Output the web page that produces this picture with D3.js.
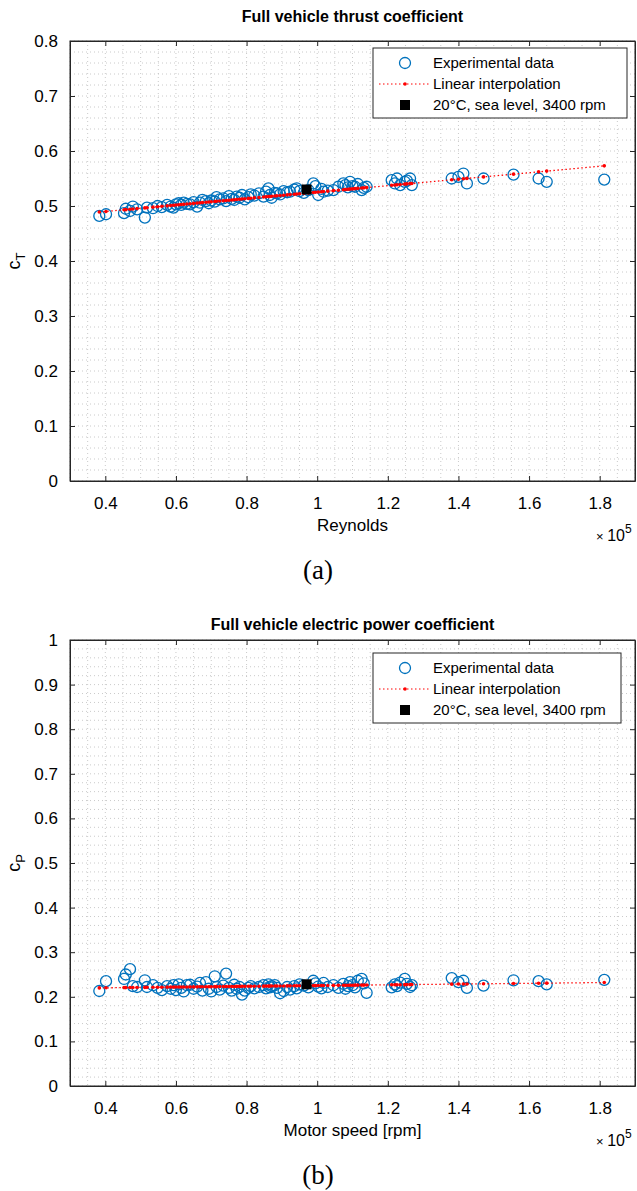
<!DOCTYPE html>
<html>
<head>
<meta charset="utf-8">
<script src="https://cdn.jsdelivr.net/npm/d3@7"></script>
<style>
  body { margin: 0; background: #fff; }
  svg text { font-family: "Liberation Sans", Arial, sans-serif; fill: #000; }
</style>
</head>
<body>
<script>
'use strict';

// Reynolds number (x 1e5), shared by both panels
var reynolds = [
  0.383, 0.402, 0.453, 0.458, 0.470, 0.478, 0.490, 0.512, 0.518, 0.535,
  0.548, 0.560, 0.575, 0.585, 0.593, 0.600, 0.608, 0.615, 0.622, 0.631,
  0.640, 0.650, 0.660, 0.668, 0.675, 0.685, 0.693, 0.700, 0.710, 0.715,
  0.724, 0.734, 0.742, 0.750, 0.758, 0.765, 0.772, 0.780, 0.787, 0.795,
  0.805, 0.812, 0.822, 0.835, 0.848, 0.855, 0.862, 0.866, 0.871, 0.880,
  0.886, 0.895, 0.905, 0.915, 0.923, 0.935, 0.942, 0.950, 0.962, 0.975,
  0.989, 0.995, 1.003, 1.012, 1.018, 1.030, 1.046, 1.060, 1.074, 1.080,
  1.087, 1.093, 1.100, 1.107, 1.115, 1.126, 1.132, 1.140, 1.211, 1.220,
  1.226, 1.235, 1.248, 1.254, 1.263, 1.268, 1.381, 1.400, 1.414, 1.424,
  1.471, 1.556, 1.627, 1.650, 1.813
];

var thrustCoef = [
  0.482, 0.485, 0.487, 0.495, 0.491, 0.499, 0.494, 0.479, 0.497, 0.496,
  0.500, 0.498, 0.502, 0.499, 0.497, 0.503, 0.505, 0.502, 0.506, 0.504,
  0.503, 0.507, 0.499, 0.506, 0.511, 0.509, 0.505, 0.510, 0.508, 0.516,
  0.512, 0.514, 0.509, 0.518, 0.513, 0.511, 0.517, 0.515, 0.520, 0.512,
  0.516, 0.521, 0.519, 0.523, 0.517, 0.526, 0.532, 0.520, 0.515, 0.524,
  0.523, 0.521, 0.527, 0.525, 0.526, 0.530, 0.532, 0.527, 0.524, 0.529,
  0.541, 0.536, 0.520, 0.531, 0.526, 0.528, 0.529, 0.535, 0.541, 0.538,
  0.534, 0.544, 0.536, 0.535, 0.540, 0.529, 0.533, 0.535, 0.547, 0.541,
  0.550, 0.538, 0.544, 0.546, 0.550, 0.538, 0.550, 0.553, 0.559, 0.541,
  0.550, 0.557, 0.550, 0.544, 0.548
];

var powerCoef = [
  0.213, 0.235, 0.240, 0.250, 0.262, 0.224, 0.222, 0.237, 0.222, 0.226,
  0.220, 0.215, 0.224, 0.218, 0.226, 0.215, 0.228, 0.220, 0.212, 0.226,
  0.227, 0.218, 0.223, 0.231, 0.214, 0.233, 0.218, 0.212, 0.246, 0.222,
  0.216, 0.225, 0.252, 0.220, 0.214, 0.227, 0.218, 0.222, 0.205, 0.214,
  0.220, 0.224, 0.219, 0.222, 0.226, 0.219, 0.228, 0.221, 0.224, 0.226,
  0.220, 0.208, 0.213, 0.222, 0.216, 0.224, 0.219, 0.228, 0.225, 0.221,
  0.236, 0.230, 0.223, 0.219, 0.231, 0.222, 0.226, 0.220, 0.229, 0.218,
  0.224, 0.233, 0.226, 0.221, 0.236, 0.240, 0.230, 0.209, 0.221, 0.228,
  0.224, 0.232, 0.240, 0.229, 0.222, 0.226, 0.242, 0.233, 0.236, 0.220,
  0.225, 0.237, 0.235, 0.228, 0.238
];

// linear interpolation end points (Reynolds range -> coefficient)
var fitRange = [0.383, 1.813];
var thrustFit = [0.489, 0.573];
var powerFit = [0.220, 0.232];

// reference point: 20°C, sea level, 3400 rpm
var refRe = 0.97;
var refThrust = 0.530;
var refPower = 0.228;

var xTicks = [0.4, 0.6, 0.8, 1, 1.2, 1.4, 1.6, 1.8];
var legendLabels = ["Experimental data", "Linear interpolation", "20°C, sea level, 3400 rpm"];

var width = 637, height = 1191;
var blue = "#0072BD";

var svg = d3.select("body").append("svg")
    .attr("width", width)
    .attr("height", height);

function drawPanel(opt) {
    var left = 70, right = 635;
    var x = d3.scaleLinear().domain([0.3, 1.9]).range([left, right]);
    var y = d3.scaleLinear().domain([0, opt.yMax]).range([opt.bottom, opt.top]);
    var fit = d3.scaleLinear().domain(fitRange).range(opt.fit);

    var g = svg.append("g");

    // minor grid (dotted)
    var minorX = d3.range(0.3, 1.9001, 0.05);
    var minorY = d3.range(0, opt.yMax + 0.0001, 0.02);
    g.append("g").selectAll("line").data(minorX).enter().append("line")
        .attr("x1", d => x(d)).attr("x2", d => x(d))
        .attr("y1", opt.top).attr("y2", opt.bottom)
        .attr("stroke", "#bdbdbd").attr("stroke-width", 0.8)
        .attr("stroke-dasharray", "1,3");
    g.append("g").selectAll("line").data(minorY).enter().append("line")
        .attr("y1", d => y(d)).attr("y2", d => y(d))
        .attr("x1", left).attr("x2", right)
        .attr("stroke", "#bdbdbd").attr("stroke-width", 0.8)
        .attr("stroke-dasharray", "1,3");

    // axes with inward ticks on all sides
    var yTicks = d3.range(0, opt.yMax + 0.0001, 0.1);
    var fmtY = d => d3.format(".1f")(d).replace(/^0\.0$/, "0").replace(/^1\.0$/, "1");
    var fmtX = d => (d === 1 ? "1" : d3.format(".1f")(d));

    var ax = g.append("g").attr("transform", "translate(0," + opt.bottom + ")")
        .call(d3.axisBottom(x).tickValues(xTicks).tickSizeInner(-5).tickSizeOuter(0).tickPadding(16).tickFormat(fmtX));
    var axT = g.append("g").attr("transform", "translate(0," + opt.top + ")")
        .call(d3.axisTop(x).tickValues(xTicks).tickSizeInner(-5).tickSizeOuter(0).tickFormat(""));
    var ay = g.append("g").attr("transform", "translate(" + left + ",0)")
        .call(d3.axisLeft(y).tickValues(yTicks).tickSizeInner(-5).tickSizeOuter(0).tickPadding(12).tickFormat(fmtY));
    var ayR = g.append("g").attr("transform", "translate(" + right + ",0)")
        .call(d3.axisRight(y).tickValues(yTicks).tickSizeInner(-5).tickSizeOuter(0).tickFormat(""));
    [ax, axT, ay, ayR].forEach(function(a) {
        a.select(".domain").attr("stroke", "#262626");
        a.selectAll(".tick line").attr("stroke", "#262626");
        a.selectAll("text").attr("font-size", 17).attr("font-family", "Liberation Sans, Arial, sans-serif").attr("fill", "#000");
    });
    g.append("rect")
        .attr("x", left).attr("y", opt.top)
        .attr("width", right - left).attr("height", opt.bottom - opt.top)
        .attr("fill", "none").attr("stroke", "#262626").attr("stroke-width", 1);

    // experimental data
    g.append("g").selectAll("circle").data(reynolds).enter().append("circle")
        .attr("cx", d => x(d))
        .attr("cy", (d, i) => y(opt.values[i]))
        .attr("r", 5.5)
        .attr("fill", "none")
        .attr("stroke", blue)
        .attr("stroke-width", 1.3);

    // interpolation line
    g.append("line")
        .attr("x1", x(fitRange[0])).attr("x2", x(fitRange[1]))
        .attr("y1", y(opt.fit[0])).attr("y2", y(opt.fit[1]))
        .attr("stroke", "red").attr("stroke-width", 1.3)
        .attr("stroke-dasharray", "1.5,2.5");
    g.append("g").selectAll("circle").data(reynolds).enter().append("circle")
        .attr("cx", d => x(d))
        .attr("cy", d => y(fit(d)))
        .attr("r", 1.8)
        .attr("fill", "red");

    // reference point
    g.append("rect")
        .attr("x", x(refRe) - 5).attr("y", y(opt.ref) - 5)
        .attr("width", 10).attr("height", 10)
        .attr("fill", "#000");

    // title and labels
    g.append("text")
        .attr("x", (left + right) / 2).attr("y", opt.titleY)
        .attr("text-anchor", "middle")
        .attr("font-size", 16).attr("font-weight", "bold")
        .text(opt.title);
    g.append("text")
        .attr("x", (left + right) / 2).attr("y", opt.bottom + 50)
        .attr("text-anchor", "middle")
        .attr("font-size", 17)
        .text(opt.xLabel);

    var mult = g.append("text")
        .attr("x", 596).attr("y", opt.bottom + 60)
        .attr("font-size", 16);
    mult.append("tspan").attr("font-size", 13).text("× ");
    mult.append("tspan").text("10");
    mult.append("tspan").attr("dy", -8).attr("font-size", 12).text("5");

    var yl = g.append("text")
        .attr("transform", "translate(20," + (opt.top + opt.bottom) / 2 + ") rotate(-90)")
        .attr("text-anchor", "middle")
        .attr("font-size", 18);
    yl.append("tspan").text("c");
    yl.append("tspan").attr("dy", 5).attr("font-size", 13).text(opt.sub);

    g.append("text")
        .attr("x", 318).attr("y", opt.bottom + 98)
        .attr("text-anchor", "middle")
        .attr("font-size", 27)
        .style("font-family", "'Liberation Serif', serif")
        .text(opt.caption);

    // legend
    var lg = g.append("g").attr("transform", "translate(" + opt.legend[0] + "," + opt.legend[1] + ")");
    lg.append("rect")
        .attr("width", opt.legend[2]).attr("height", 70)
        .attr("fill", "#fff").attr("stroke", "#262626").attr("stroke-width", 1);
    var rows = lg.selectAll("g.row").data(legendLabels).enter().append("g")
        .attr("transform", (d, i) => "translate(0," + (15 + i * 21) + ")");
    rows.append("text")
        .attr("x", 60).attr("y", 5)
        .attr("font-size", 15)
        .text(d => d);
    lg.append("circle")
        .attr("cx", 32).attr("cy", 15).attr("r", 5.5)
        .attr("fill", "none").attr("stroke", blue).attr("stroke-width", 1.3);
    lg.append("line")
        .attr("x1", 6).attr("x2", 58).attr("y1", 36).attr("y2", 36)
        .attr("stroke", "red").attr("stroke-width", 1)
        .attr("stroke-dasharray", "1.5,2.5");
    lg.append("circle")
        .attr("cx", 32).attr("cy", 36).attr("r", 1.8).attr("fill", "red");
    lg.append("rect")
        .attr("x", 27).attr("y", 52).attr("width", 10).attr("height", 10)
        .attr("fill", "#000");
}

drawPanel({
    top: 41, bottom: 481, yMax: 0.8, titleY: 22,
    values: thrustCoef, fit: thrustFit, ref: refThrust,
    title: "Full vehicle thrust coefficient",
    xLabel: "Reynolds", sub: "T", caption: "(a)",
    legend: [373, 48, 254]
});

drawPanel({
    top: 640, bottom: 1086, yMax: 1, titleY: 630,
    values: powerCoef, fit: powerFit, ref: refPower,
    title: "Full vehicle electric power coefficient",
    xLabel: "Motor speed [rpm]", sub: "P", caption: "(b)",
    legend: [373, 653, 248]
});
</script>
</body>
</html>
